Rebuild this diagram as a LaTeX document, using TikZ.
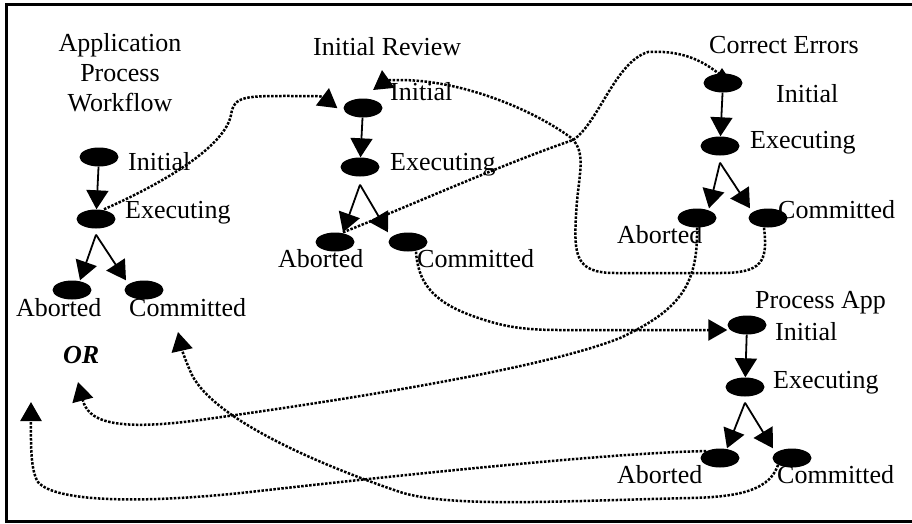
\documentclass[tikz,border=0pt]{standalone}
\usepackage{fontspec}
\setmainfont{Liberation Serif}
\usetikzlibrary{arrows.meta,shapes.geometric,backgrounds}

\begin{document}
\begin{tikzpicture}[x=1pt,y=-1pt]
  \tikzset{st/.style={ellipse,fill=black,minimum width=39pt,minimum height=19pt,inner sep=0pt},
    lb/.style={anchor=base west,inner sep=0pt,font=\fontsize{26}{30}\selectfont},
    tr/.style={line width=1.8pt,-{Triangle[width=22pt,length=19pt]}},
    lk/.style={line width=2.5pt,dash pattern=on 2.5pt off 1.5pt,-{Triangle[width=21pt,length=19pt]}}}
  \useasboundingbox (0,0) rectangle (912,523);
  \draw[line width=3pt] (6,4) rectangle (930,521);

  % Application Process Workflow
  \node[lb,anchor=north,align=center] (appT) at (120,33) {Application\\Process\\Workflow};
  \node[st] (appI) at (99,157) {};
  \node[st] (appE) at (96,219) {};
  \node[st] (appA) at (72,290) {};
  \node[st] (appC) at (144,290) {};
  \node[lb] (appIl) at (128,170) {Initial};
  \node[lb] (appEl) at (125,218) {Executing};
  \node[lb] (appAl) at (16,316) {Aborted};
  \node[lb] (appCl) at (129,316) {Committed};
  \node[lb,font=\fontsize{26}{30}\selectfont\bfseries\itshape] (or) at (63,363) {OR};
  \draw[tr] (appI) -- (appE);
  \draw[tr] ([yshift=-6pt]appE.south) -- ([xshift=8pt]appA.north);
  \draw[tr] ([yshift=-6pt]appE.south) -- ([xshift=-18pt]appC.north);

  % Initial Review
  \node[lb] (irT) at (313,55) {Initial Review};
  \node[st] (irI) at (363,108) {};
  \node[st] (irE) at (360,167) {};
  \node[st] (irA) at (335,242) {};
  \node[st] (irC) at (408,242) {};
  \node[lb] (irIl) at (390,100) {Initial};
  \node[lb] (irEl) at (390,170) {Executing};
  \node[lb] (irAl) at (278,267) {Aborted};
  \node[lb] (irCl) at (417,267) {Committed};
  \draw[tr] (irI) -- (irE);
  \draw[tr] ([yshift=-8pt]irE.south) -- ([xshift=8pt]irA.north);
  \draw[tr] ([yshift=-8pt]irE.south) -- ([xshift=-20pt]irC.north);

  % Correct Errors
  \node[lb] (ceT) at (709,53) {Correct Errors};
  \node[st] (ceI) at (723,83) {};
  \node[st] (ceE) at (720,146) {};
  \node[st] (ceA) at (697,218) {};
  \node[st] (ceC) at (768,218) {};
  \node[lb] (ceIl) at (776,102) {Initial};
  \node[lb] (ceEl) at (750,148) {Executing};
  \node[lb] (ceAl) at (617,243) {Aborted};
  \node[lb] (ceCl) at (778,218) {Committed};
  \draw[tr] (ceI) -- (ceE);
  \draw[tr] ([yshift=-7pt]ceE.south) -- ([xshift=12pt]ceA.north);
  \draw[tr] ([yshift=-7pt]ceE.south) -- ([xshift=-18pt]ceC.north);

  % Process App
  \node[lb] (paT) at (755,308) {Process App};
  \node[st] (paI) at (747,325) {};
  \node[st] (paE) at (745,387) {};
  \node[st] (paA) at (720,458) {};
  \node[st] (paC) at (792,458) {};
  \node[lb] (paIl) at (775,340) {Initial};
  \node[lb] (paEl) at (773,388) {Executing};
  \node[lb] (paAl) at (617,483) {Aborted};
  \node[lb] (paCl) at (777,483) {Committed};
  \draw[tr] (paI) -- (paE);
  \draw[tr] ([yshift=-6pt]paE.south) -- ([xshift=7pt]paA.north);
  \draw[tr] ([yshift=-6pt]paE.south) -- ([xshift=-19pt]paC.north);

  % free ends of the links
  \coordinate (t1) at (329,88);
  \coordinate (t2) at (722,68);
  \coordinate (t3) at (382,70);
  \coordinate (t5) at (78,382);
  \coordinate (t6) at (31,402);
  \coordinate (t7) at (178,332);

  \begin{pgfonlayer}{background}
    \draw[lk] ([xshift=8pt]appE.north) .. controls (170,180) and (225,145) .. (231,115)
      .. controls (234,95) and (245,96) .. (300,96) .. controls (328,96) .. (t1);
    \draw[lk,-{Triangle[width=10pt,length=8pt]}] ([xshift=8pt]irA.north)
      .. controls (400,210) and (500,165) .. (573,140)
      .. controls (598,124) and (615,62) .. (648,52)
      .. controls (680,50) and (700,60) .. (714,70) .. controls (722,76) .. (t2);
    \draw[lk] ([xshift=-4pt]ceC.south) .. controls (768,262) and (762,273) .. (720,273) -- (615,273)
      .. controls (575,273) and (574,255) .. (576,215)
      .. controls (578,175) and (588,152) .. (570,137)
      .. controls (530,108) and (460,80) .. (400,80) .. controls (383,80) .. (t3);
    \draw[lk] ([xshift=8pt]irC.south) .. controls (418,280) and (430,300) .. (470,315)
      .. controls (500,326) and (520,330) .. (560,330) -- ([yshift=-5pt]paI.west);
    \draw[lk] (ceA.south) .. controls (698,285) and (680,310) .. (620,338)
      .. controls (540,370) and (330,402) .. (200,420)
      .. controls (110,432) and (88,420) .. (t5);
    \draw[lk] (paA.north west) .. controls (620,452) and (400,475) .. (250,492)
      .. controls (140,504) and (55,502) .. (38,482)
      .. controls (30,470) and (31,440) .. (t6);
    \draw[lk] (paC.south west) .. controls (770,488) and (745,497) .. (690,498)
      .. controls (560,501) and (450,508) .. (400,492)
      .. controls (320,465) and (215,420) .. (192,375)
      .. controls (186,362) and (182,350) .. (t7);
  \end{pgfonlayer}
\end{tikzpicture}
\end{document}
